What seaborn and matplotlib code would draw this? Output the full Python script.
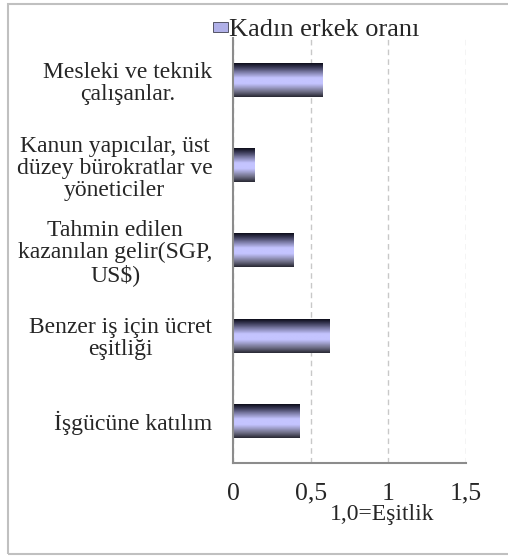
import numpy as np
import pandas as pd
import matplotlib
matplotlib.use("Agg")
import matplotlib.pyplot as plt
import seaborn as sns
from matplotlib.colors import LinearSegmentedColormap
from matplotlib.patches import Rectangle

# data (top to bottom)
categories = ["Mesleki ve teknik\nçalışanlar.",
              "Kanun yapıcılar, üst\ndüzey bürokratlar ve\nyöneticiler",
              "Tahmin edilen\nkazanılan gelir(SGP,\nUS$)",
              "Benzer iş için ücret\neşitliği",
              "İşgücüne katılım"]
values = [0.58, 0.14, 0.39, 0.62, 0.43]
xticks = [0, 0.5, 1, 1.5]
xtick_labels = ["0", "0,5", "1", "1,5"]
series_name = "Kadın erkek oranı"

df = pd.DataFrame({"cat": categories, "val": values})

sns.set_theme(style="white")
plt.rcParams["font.family"] = ["Liberation Serif", "DejaVu Serif"]

fig = plt.figure(figsize=(5.08, 5.56), dpi=100)
ax = fig.add_axes([0.459, 0.167, 0.458, 0.765])

sns.barplot(data=df, x="val", y="cat", ax=ax, color="#c0c0ff", width=0.4,
            orient="h", edgecolor="none")

# gradient: dark top, lavender middle, dark grey bottom
cmap = LinearSegmentedColormap.from_list(
    "bar", [(0.0, "#05050f"), (0.12, "#30304a"), (0.45, "#c4c4ff"),
            (0.62, "#c4c4ff"), (0.85, "#707088"), (1.0, "#2a2a35")])
grad = np.linspace(0, 1, 64).reshape(-1, 1)
for p in ax.patches:
    x0, y0 = p.get_x(), p.get_y()
    w, h = p.get_width(), p.get_height()
    # y axis inverted: y0 is top edge
    im = ax.imshow(grad, cmap=cmap, aspect="auto",
                   extent=[x0, x0 + w, y0 + h, y0], zorder=3,
                   interpolation="bilinear")
    im.set_clip_path(p)
    p.set_facecolor("none")

ax.set_xlim(0, 1.5)
ax.set_ylim(4.5, -0.5)
ax.set_xticks(xticks)
ax.set_xticklabels(xtick_labels, fontsize=18.5)
ax.tick_params(axis="x", pad=14, length=0)
ax.tick_params(axis="y", pad=15, length=0)
for lab in ax.get_yticklabels():
    lab.set_fontsize(17)
    lab.set_multialignment("center")
    lab.set_linespacing(1.05)

ax.xaxis.grid(True, color="#c8c8c8", linestyle=(0, (4, 3)), linewidth=1)
ax.set_axisbelow(True)
for s in ["top", "right"]:
    ax.spines[s].set_visible(False)
for s in ["left", "bottom"]:
    ax.spines[s].set_color("#8c8c8c")
    ax.spines[s].set_linewidth(1.5)
    ax.spines[s].set_zorder(4)

ax.set_ylabel("")
ax.set_xlabel("1,0=Eşitlik", fontsize=17)
ax.xaxis.set_label_coords(0.64, -0.095)

# legend
fig.add_artist(Rectangle((213 / 508, 1 - 32 / 556), 15 / 508, 10 / 556,
                         transform=fig.transFigure, facecolor="#b0b0e8",
                         edgecolor="#404050", linewidth=0.6))
fig.text(229 / 508, 1 - 30 / 556, series_name, fontsize=19, va="center",
         ha="left")

# outer frame
fig.add_artist(Rectangle((8 / 508, 2 / 556), 510 / 508, 550 / 556,
                         transform=fig.transFigure, facecolor="none",
                         edgecolor="#c0c0c0", linewidth=1.5))

fig.savefig("out.png", dpi=100)
